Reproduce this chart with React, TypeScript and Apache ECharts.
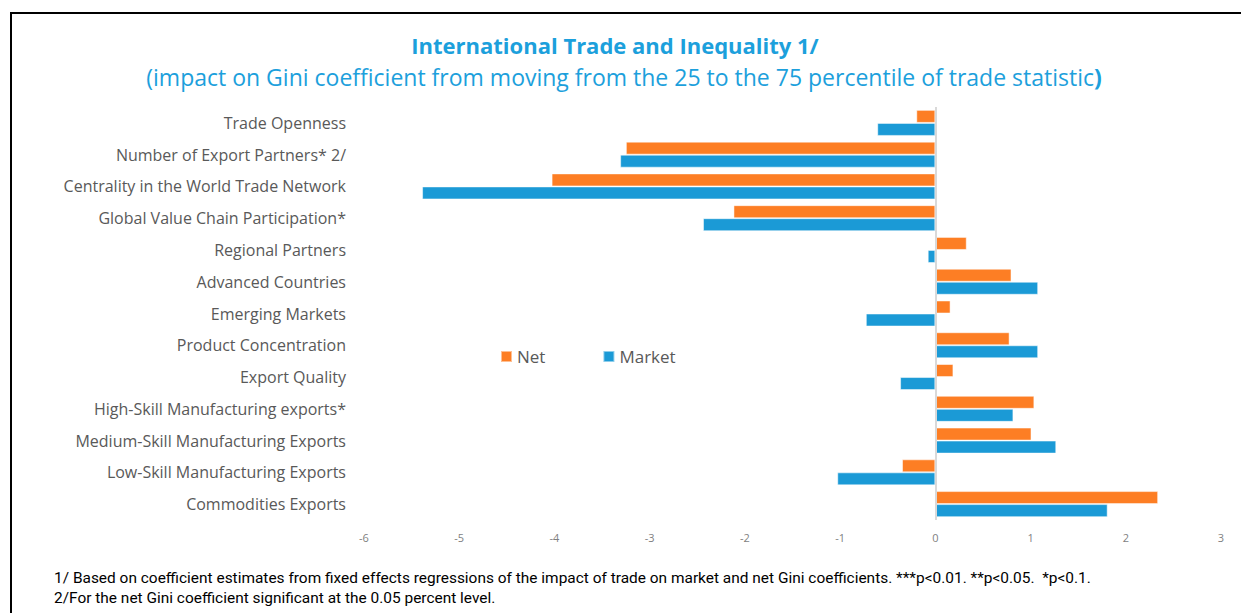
import React, { useEffect, useRef } from "react";
import * as echarts from "echarts";

const categories = [
  "Trade Openness",
  "Number of Export Partners* 2/",
  "Centrality in the World Trade Network",
  "Global Value Chain Participation*",
  "Regional Partners",
  "Advanced Countries",
  "Emerging Markets",
  "Product Concentration",
  "Export Quality",
  "High-Skill Manufacturing exports*",
  "Medium-Skill Manufacturing Exports",
  "Low-Skill Manufacturing Exports",
  "Commodities Exports",
];
const netValues = [-0.2, -3.25, -4.03, -2.12, 0.33, 0.8, 0.16, 0.78, 0.19, 1.04, 1.01, -0.35, 2.34];
const marketValues = [-0.61, -3.31, -5.39, -2.44, -0.08, 1.08, -0.73, 1.08, -0.37, 0.82, 1.27, -1.03, 1.81];

const titleText = "International Trade and Inequality 1/";
const subtitleText = "(impact on Gini coefficient from moving from the 25 to the 75 percentile of trade statistic";
const footnote1 =
  "1/ Based on coefficient estimates from fixed effects regressions of the impact of trade on market and net Gini coefficients. ***p<0.01. **p<0.05.  *p<0.1.";
const footnote2 = "2/For the net Gini coefficient significant at the 0.05 percent level.";

const ORANGE = "#FD7E24";
const BLUE = "#1B9AD6";

export default function App() {
  const ref = useRef<HTMLDivElement>(null);
  useEffect(() => {
    if (!ref.current) return;
    const chart = echarts.init(ref.current, null, { renderer: "svg" });
    chart.setOption({
      animation: false,
      backgroundColor: "#fff",
      graphic: [
        {
          type: "rect",
          shape: { x: 11, y: 13, width: 1300, height: 700 },
          style: { fill: "none", stroke: "#000", lineWidth: 2 },
          silent: true,
        },
        {
          type: "text",
          x: 615,
          y: 45,
          style: {
            text: titleText,
            font: "bold 22px 'Open Sans', sans-serif",
            fill: "#1CA0DC",
            align: "center",
            verticalAlign: "middle",
          },
        },
        {
          type: "text",
          x: 624,
          y: 77,
          style: {
            text: "{a|" + subtitleText + "}{b|)}",
            align: "center",
            verticalAlign: "middle",
            rich: {
              a: { font: "23px 'Open Sans', sans-serif", fill: "#1CA0DC" },
              b: { font: "bold 23px 'Open Sans', sans-serif", fill: "#1CA0DC" },
            },
          },
        },
        {
          type: "text",
          x: 54,
          y: 578,
          scaleX: 1.03,
          style: {
            text: footnote1,
            font: "15px 'Roboto', sans-serif",
            fill: "#000",
            verticalAlign: "middle",
          },
        },
        {
          type: "text",
          x: 54,
          y: 598,
          scaleX: 1.03,
          style: {
            text: footnote2,
            font: "15px 'Roboto', sans-serif",
            fill: "#000",
            verticalAlign: "middle",
          },
        },
      ],
      legend: {
        left: 495,
        top: 343,
        icon: "rect",
        itemWidth: 11,
        itemHeight: 11,
        itemGap: 57,
        textStyle: { fontSize: 17, color: "#595959", fontFamily: "'Open Sans', sans-serif" },
        data: ["Net", "Market"],
      },
      grid: { left: 364, right: 20, top: 107, bottom: 93, containLabel: false },
      xAxis: {
        type: "value",
        min: -6,
        max: 3,
        interval: 1,
        axisLine: { show: false },
        axisTick: { show: false },
        splitLine: { show: false },
        axisLabel: { fontSize: 11, color: "#7f7f7f", margin: 12, fontFamily: "'Open Sans', sans-serif" },
      },
      yAxis: {
        type: "category",
        inverse: true,
        data: categories,
        axisLine: { show: false },
        axisTick: { show: false },
        axisLabel: { fontSize: 16, color: "#595959", margin: 18, fontFamily: "'Open Sans', sans-serif" },
      },
      series: [
        {
          name: "Net",
          type: "bar",
          data: netValues,
          barGap: "0%",
          barCategoryGap: "18%",
          itemStyle: { color: ORANGE, borderColor: "rgba(255,255,255,0.5)", borderWidth: 1 },
          markLine: {
            silent: true,
            symbol: "none",
            label: { show: false },
            lineStyle: { color: "#d9d9d9", width: 2, type: "solid" },
            data: [{ xAxis: 0 }],
          },
        },
        {
          name: "Market",
          type: "bar",
          data: marketValues,
          barGap: "0%",
          barCategoryGap: "18%",
          itemStyle: { color: BLUE, borderColor: "rgba(255,255,255,0.5)", borderWidth: 1 },
        },
      ],
    });
    return () => chart.dispose();
  }, []);
  return (
    <div
      ref={ref}
      style={{ position: "fixed", left: 0, top: 0, width: 1241, height: 613 }}
    />
  );
}
